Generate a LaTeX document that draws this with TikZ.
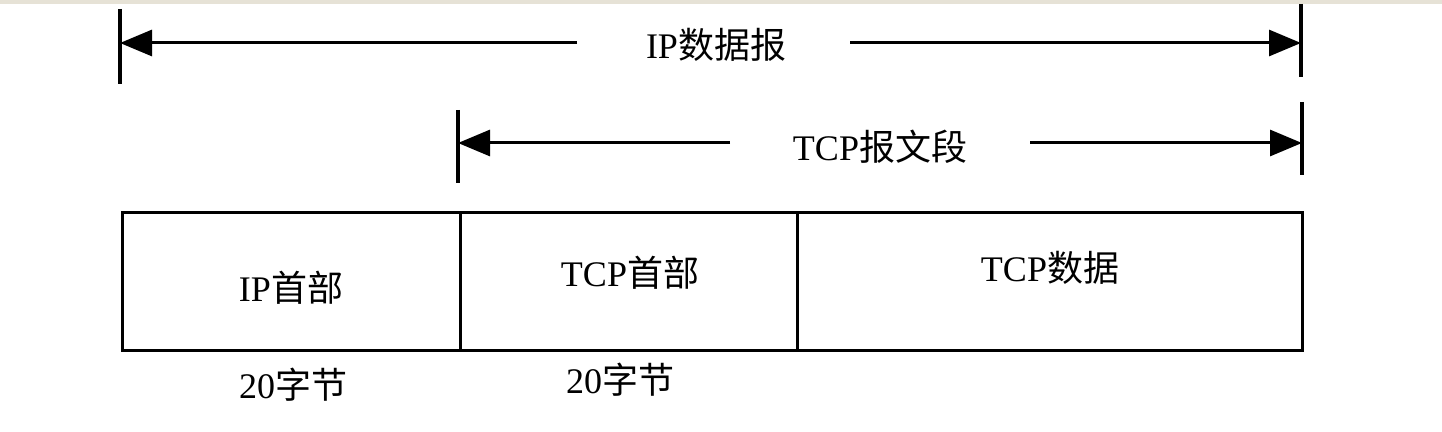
\documentclass[tikz,border=0pt]{standalone}
\usepackage{fontspec}
\setmainfont{Liberation Serif}
\newfontfamily\cjk{Noto Sans CJK SC}
\usetikzlibrary{arrows.meta}
\definecolor{paper}{RGB}{230,226,214}

\begin{document}
\begin{tikzpicture}[x=0.5pt,y=-0.5pt,
            every node/.style={font=\fontsize{18}{21}\selectfont,inner sep=0pt},
            dimline/.style={line width=1.5pt,-{Triangle[length=16pt,width=13pt]}},
            bar/.style={line width=1.7pt},
            field/.style={line width=1.5pt}]
            \fill[paper] (0,0) rectangle (1442,4);
            \useasboundingbox (0,0) rectangle (1442,432);

            %IP datagram
            \coordinate (ipL) at (120,43);
            \coordinate (ipR) at (1301,43);
            \coordinate (ipgapL) at (577,43);
            \coordinate (ipgapR) at (850,43);
            \node (ipdg) at (716,45) {IP{\cjk 数据报}};
            \draw[bar] (120,9) -- (120,84);
            \draw[bar] (1301,4) -- (1301,77);
            \draw[dimline] (ipgapL) -- (ipL);
            \draw[dimline] (ipgapR) -- (ipR);

            %TCP segment
            \coordinate (tcpL) at (458,143);
            \coordinate (tcpR) at (1302,143);
            \coordinate (tcpgapL) at (730,143);
            \coordinate (tcpgapR) at (1030,143);
            \node (tcpseg) at (880,147) {TCP{\cjk 报文段}};
            \draw[bar] (458,110) -- (458,183);
            \draw[bar] (1302,102) -- (1302,175);
            \draw[dimline] (tcpgapL) -- (tcpL);
            \draw[dimline] (tcpgapR) -- (tcpR);

            %fields
            \draw[field] (122,213) rectangle (460,351);
            \draw[field] (460,213) rectangle (797,351);
            \draw[field] (797,213) rectangle (1302,351);
            \node (iphdr) at (291,288) {IP{\cjk 首部}};
            \node (tcphdr) at (630,273) {TCP{\cjk 首部}};
            \node (tcpdata) at (1050,268) {TCP{\cjk 数据}};
            \node (iplen) at (293,385) {20{\cjk 字节}};
            \node (tcplen) at (620,380) {20{\cjk 字节}};
\end{tikzpicture}
\end{document}
